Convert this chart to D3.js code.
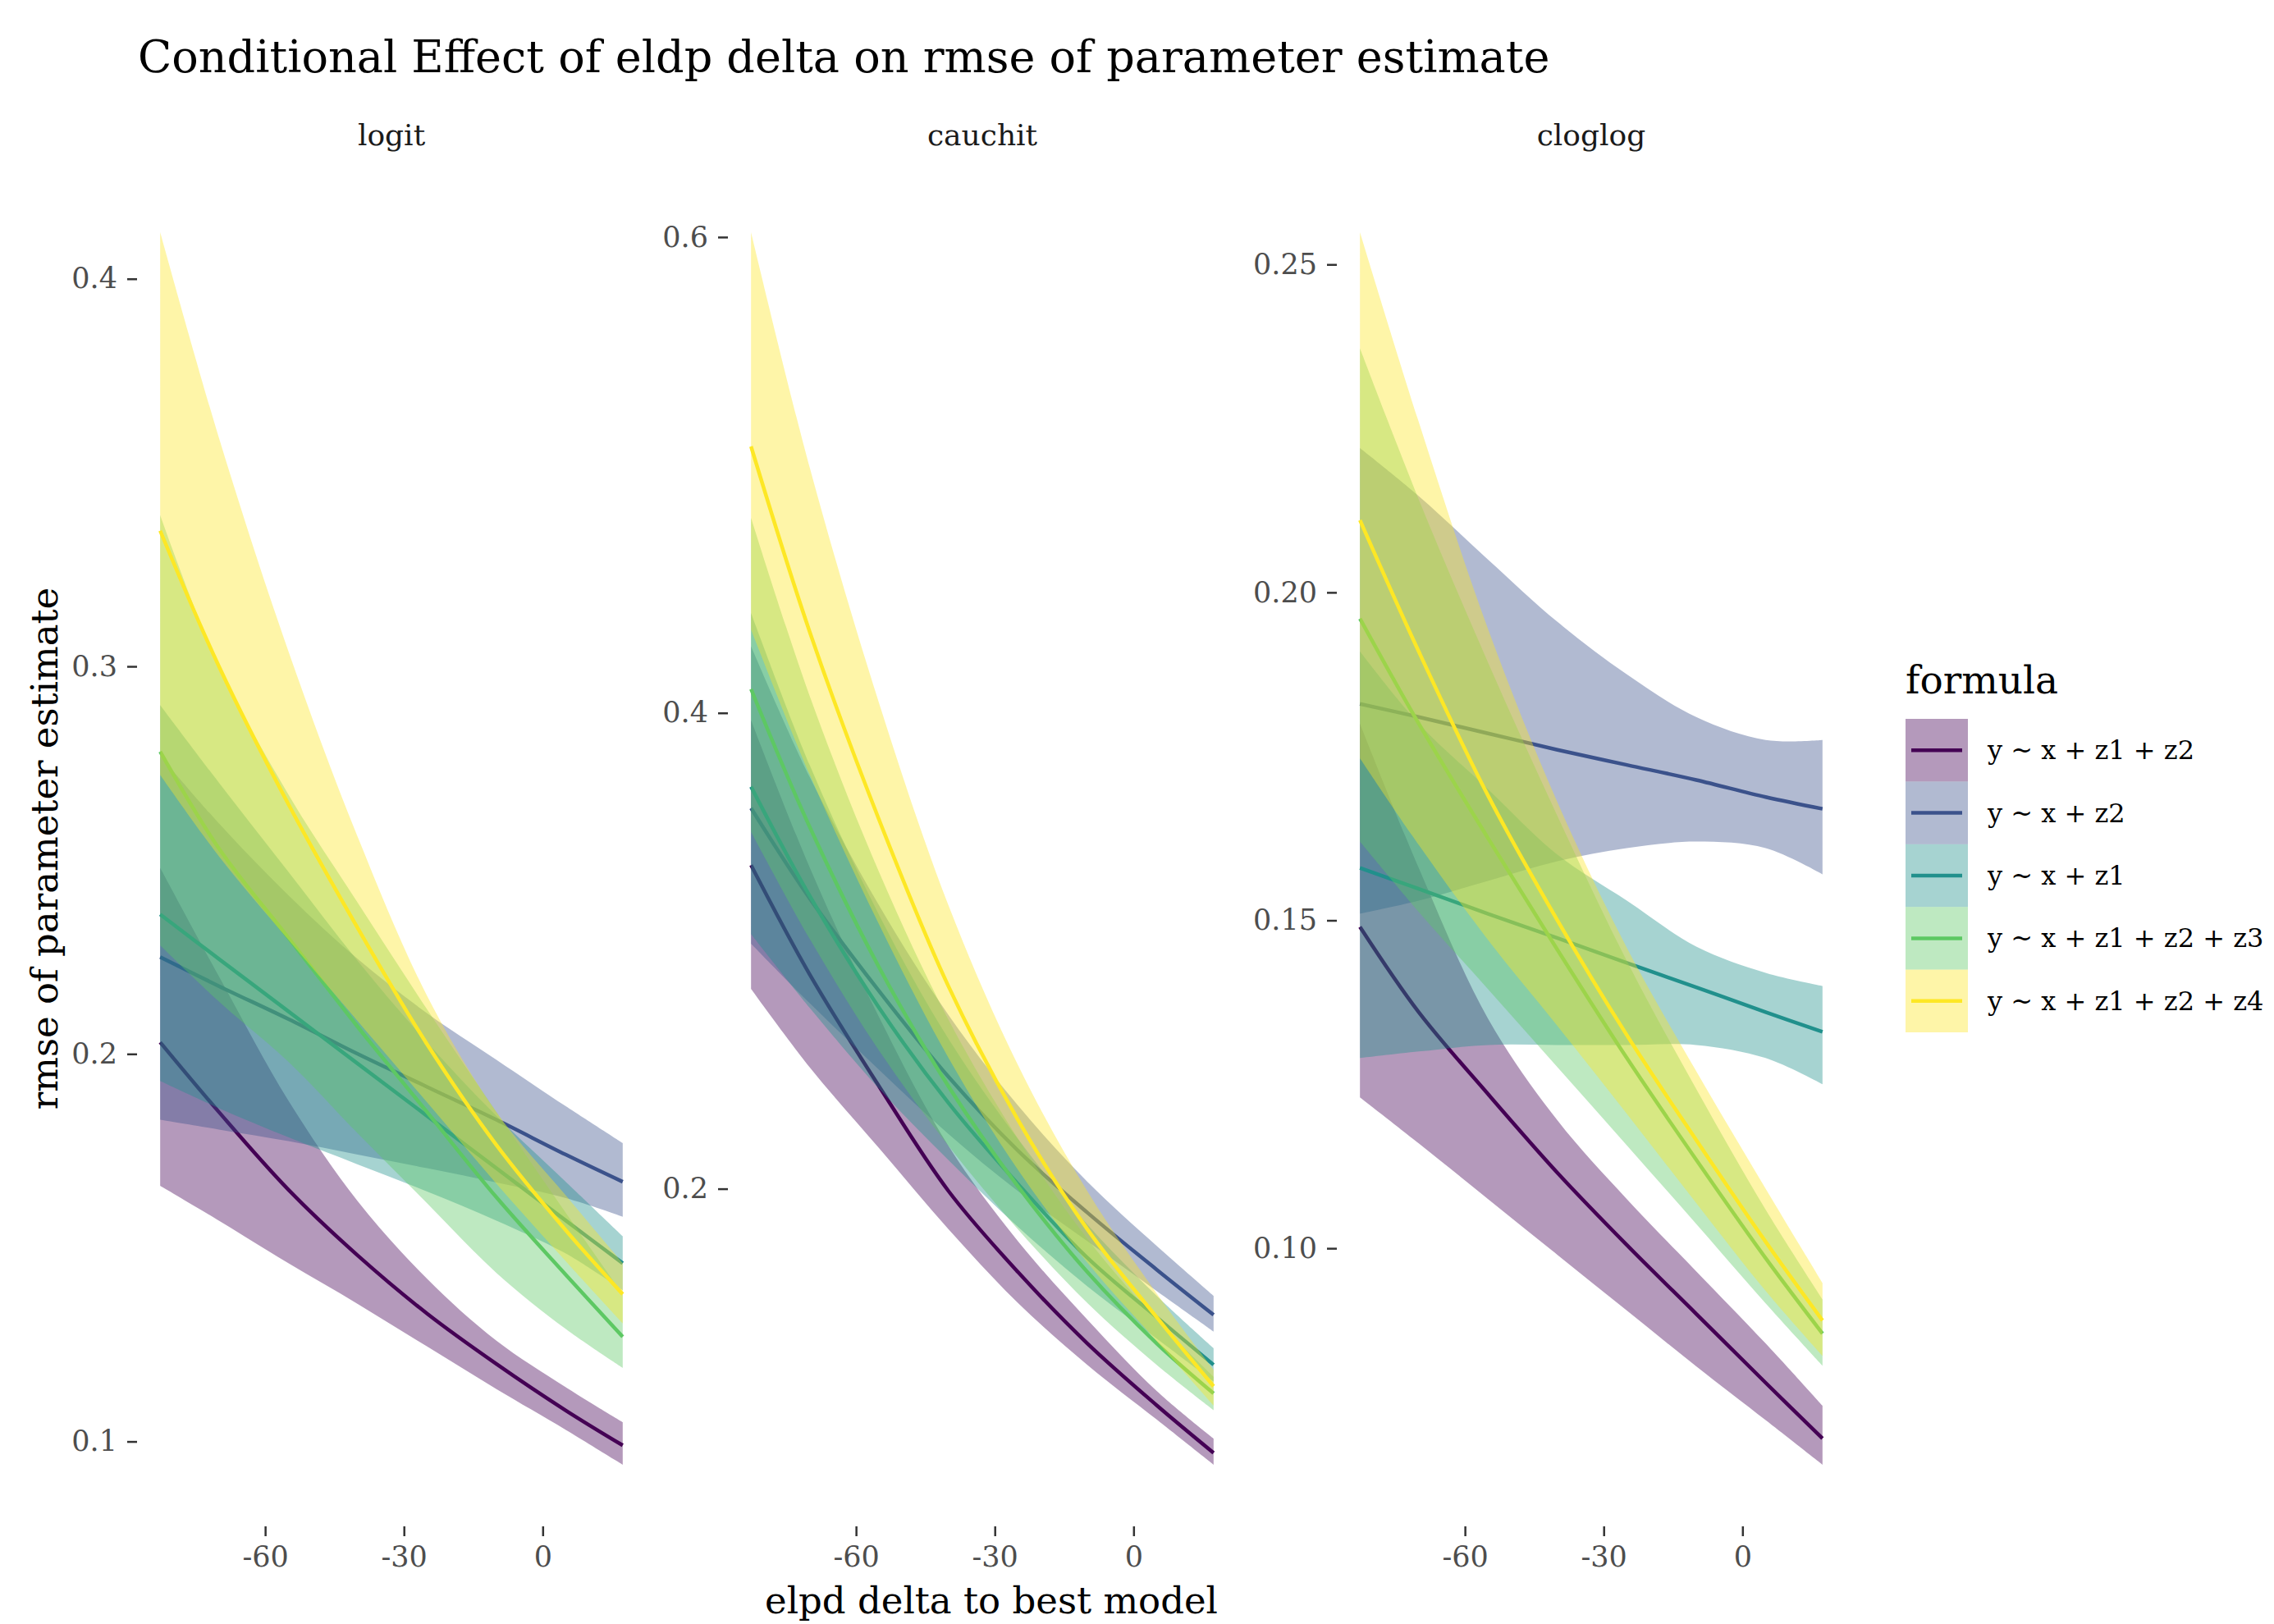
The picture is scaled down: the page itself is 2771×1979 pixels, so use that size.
<!DOCTYPE html>
<html>
<head>
<meta charset="utf-8">
<script src="https://cdn.jsdelivr.net/npm/d3@7"></script>
<style>
  body { margin: 0; background: #fff; }
  svg text { font-family: 'DejaVu Serif', serif; }
</style>
</head>
<body>
<svg id="chart"></svg>
<script>
const xValues = [-82.7, -70, -55, -40, -25, -10, 5, 17.3];

const formulas = ['y ~ x + z1 + z2', 'y ~ x + z2', 'y ~ x + z1', 'y ~ x + z1 + z2 + z3', 'y ~ x + z1 + z2 + z4'];
const links    = ['logit', 'cauchit', 'cloglog'];
const colors   = ['#440154', '#3B528B', '#21908C', '#5DC863', '#FDE725'];

const xTicks       = [-60, -30, 0];
const logitTicks   = [0.1, 0.2, 0.3, 0.4];
const cauchitTicks = [0.2, 0.4, 0.6];
const cloglogTicks = [0.10, 0.15, 0.20, 0.25];

// one row per formula, same order as `formulas`
const logitEstimate = [
  [0.203, 0.185, 0.165, 0.148, 0.133, 0.120, 0.108, 0.099],
  [0.225, 0.2175, 0.209, 0.200, 0.1915, 0.183, 0.174, 0.167],
  [0.236, 0.2245, 0.211, 0.1975, 0.184, 0.1705, 0.157, 0.146],
  [0.278, 0.253, 0.230, 0.207, 0.185, 0.163, 0.143, 0.127],
  [0.335, 0.300, 0.2645, 0.2325, 0.2025, 0.1765, 0.1545, 0.138]
];
const logitLower = [
  [0.166, 0.157, 0.146, 0.1355, 0.1245, 0.1135, 0.103, 0.094],
  [0.183, 0.1805, 0.1775, 0.174, 0.1705, 0.1668, 0.1628, 0.158],
  [0.193, 0.186, 0.1785, 0.1715, 0.1645, 0.157, 0.1485, 0.139],
  [0.228, 0.2135, 0.198, 0.1795, 0.1615, 0.1435, 0.129, 0.119],
  [0.272, 0.251, 0.2295, 0.2085, 0.1875, 0.1665, 0.1465, 0.1305]
];
const logitUpper = [
  [0.248, 0.220, 0.188, 0.162, 0.142, 0.126, 0.114, 0.105],
  [0.277, 0.2595, 0.241, 0.2245, 0.2105, 0.1985, 0.1865, 0.177],
  [0.290, 0.270, 0.247, 0.224, 0.203, 0.184, 0.167, 0.153],
  [0.339, 0.300, 0.267, 0.239, 0.2115, 0.185, 0.159, 0.138],
  [0.412, 0.359, 0.304, 0.256, 0.215, 0.185, 0.1635, 0.146]
];

const cauchitEstimate = [
  [0.336, 0.290, 0.243, 0.199, 0.165, 0.135, 0.109, 0.089],
  [0.360, 0.322, 0.283, 0.247, 0.216, 0.190, 0.166, 0.147],
  [0.369, 0.323, 0.276, 0.236, 0.202, 0.171, 0.146, 0.126],
  [0.410, 0.352, 0.293, 0.243, 0.201, 0.165, 0.135, 0.114],
  [0.512, 0.434, 0.355, 0.285, 0.229, 0.183, 0.146, 0.117]
];
const cauchitLower = [
  [0.284, 0.251, 0.217, 0.183, 0.152, 0.126, 0.103, 0.084],
  [0.303, 0.278, 0.250, 0.223, 0.199, 0.178, 0.157, 0.140],
  [0.307, 0.276, 0.242, 0.212, 0.184, 0.159, 0.137, 0.119],
  [0.350, 0.305, 0.258, 0.218, 0.183, 0.152, 0.126, 0.107],
  [0.435, 0.374, 0.311, 0.255, 0.208, 0.169, 0.136, 0.109]
];
const cauchitUpper = [
  [0.397, 0.335, 0.272, 0.218, 0.178, 0.145, 0.115, 0.095],
  [0.428, 0.373, 0.319, 0.273, 0.235, 0.203, 0.176, 0.155],
  [0.442, 0.378, 0.315, 0.263, 0.221, 0.185, 0.155, 0.133],
  [0.482, 0.407, 0.333, 0.271, 0.221, 0.179, 0.145, 0.121],
  [0.602, 0.503, 0.404, 0.319, 0.252, 0.199, 0.156, 0.124]
];

const cloglogEstimate = [
  [0.149, 0.136, 0.1235, 0.1115, 0.1005, 0.090, 0.0795, 0.071],
  [0.183, 0.181, 0.1785, 0.176, 0.1737, 0.1714, 0.1688, 0.167],
  [0.158, 0.1548, 0.151, 0.1473, 0.1435, 0.1398, 0.136, 0.133],
  [0.196, 0.180, 0.1625, 0.1455, 0.129, 0.1135, 0.0985, 0.087],
  [0.211, 0.191, 0.169, 0.150, 0.1325, 0.1165, 0.101, 0.089]
];
const cloglogLower = [
  [0.123, 0.116, 0.1075, 0.099, 0.0905, 0.082, 0.0738, 0.067],
  [0.151, 0.153, 0.156, 0.159, 0.161, 0.162, 0.161, 0.157],
  [0.129, 0.130, 0.131, 0.131, 0.131, 0.131, 0.129, 0.125],
  [0.162, 0.1513, 0.1395, 0.1276, 0.1157, 0.1037, 0.0916, 0.0821],
  [0.1747, 0.1615, 0.147, 0.1339, 0.1205, 0.1069, 0.0935, 0.0836]
];
const cloglogUpper = [
  [0.180, 0.158, 0.135, 0.1195, 0.1075, 0.0965, 0.0855, 0.076],
  [0.222, 0.2147, 0.205, 0.1955, 0.1875, 0.181, 0.1775, 0.1775],
  [0.191, 0.180, 0.170, 0.160, 0.153, 0.146, 0.142, 0.140],
  [0.2372, 0.2142, 0.1893, 0.1659, 0.1438, 0.1243, 0.1059, 0.0922],
  [0.2549, 0.226, 0.1944, 0.168, 0.1458, 0.127, 0.1091, 0.0947]
];

const panels = [
  { link: links[0], est: logitEstimate,   lower: logitLower,   upper: logitUpper,   ticks: logitTicks,   fmt: '.1f' },
  { link: links[1], est: cauchitEstimate, lower: cauchitLower, upper: cauchitUpper, ticks: cauchitTicks, fmt: '.1f' },
  { link: links[2], est: cloglogEstimate, lower: cloglogLower, upper: cloglogUpper, ticks: cloglogTicks, fmt: '.2f' }
];

const W = 2771, H = 1979;
const panelTop = 208, panelBottom = 1860;
const panelLefts = [167, 887, 1629];
const panelWidth = 620;

const svg = d3.select('#chart').attr('width', W).attr('height', H);
svg.append('rect').attr('width', W).attr('height', H).attr('fill', '#fff');

svg.append('text')
  .attr('x', 168).attr('y', 88)
  .attr('font-size', 54).attr('fill', '#000')
  .text('Conditional Effect of eldp delta on rmse of parameter estimate');

const [xMin, xMax] = d3.extent(xValues);
const xPad = (xMax - xMin) * 0.05;

function styleAxis(g) {
  g.attr('font-family', "'DejaVu Serif', serif").attr('font-size', 35);
  g.select('.domain').remove();
  g.selectAll('.tick line').attr('stroke', '#333').attr('stroke-width', 2.5);
  g.selectAll('.tick text').attr('fill', '#4D4D4D');
}

panels.forEach((p, i) => {
  const left = panelLefts[i];
  const x = d3.scaleLinear()
    .domain([xMin - xPad, xMax + xPad])
    .range([left, left + panelWidth]);

  const [lo, hi] = d3.extent(p.lower.flat().concat(p.upper.flat()));
  const yPad = (hi - lo) * 0.05;
  const y = d3.scaleLinear()
    .domain([lo - yPad, hi + yPad])
    .range([panelBottom, panelTop]);

  const curve = d3.curveCatmullRom.alpha(0.5);
  const area = d3.area()
    .x(d => x(d.x)).y0(d => y(d.lower)).y1(d => y(d.upper))
    .curve(curve);
  const line = d3.line()
    .x(d => x(d.x)).y(d => y(d.est))
    .curve(curve);

  // ribbon then line for each formula, so later ribbons wash over earlier lines
  const g = svg.append('g');
  formulas.forEach((f, k) => {
    const rows = xValues.map((xv, j) => ({
      x: xv, est: p.est[k][j], lower: p.lower[k][j], upper: p.upper[k][j]
    }));
    g.append('path').datum(rows)
      .attr('d', area)
      .attr('fill', colors[k]).attr('fill-opacity', 0.4);
    g.append('path').datum(rows)
      .attr('d', line)
      .attr('fill', 'none')
      .attr('stroke', colors[k]).attr('stroke-width', 4.5);
  });

  svg.append('g')
    .attr('transform', `translate(${left},0)`)
    .call(d3.axisLeft(y).tickValues(p.ticks).tickFormat(d3.format(p.fmt)).tickSize(12).tickPadding(12))
    .call(styleAxis);

  svg.append('g')
    .attr('transform', `translate(0,${panelBottom})`)
    .call(d3.axisBottom(x).tickValues(xTicks).tickFormat(d => String(d)).tickSize(12).tickPadding(12))
    .call(styleAxis);

  svg.append('text')
    .attr('x', left + panelWidth / 2).attr('y', 177)
    .attr('text-anchor', 'middle')
    .attr('font-size', 36).attr('fill', '#1A1A1A')
    .text(p.link);
});

// axis titles
svg.append('text')
  .attr('x', (panelLefts[0] + panelLefts[2] + panelWidth) / 2).attr('y', 1966)
  .attr('text-anchor', 'middle')
  .attr('font-size', 45).attr('fill', '#000')
  .text('elpd delta to best model');

svg.append('text')
  .attr('transform', `translate(70,${(panelTop + panelBottom) / 2}) rotate(-90)`)
  .attr('text-anchor', 'middle')
  .attr('font-size', 45).attr('fill', '#000')
  .text('rmse of parameter estimate');

// legend
const legendX = 2322, legendTop = 876, keySize = 76.4;
const legend = svg.append('g');
legend.append('text')
  .attr('x', legendX).attr('y', 845)
  .attr('font-size', 47).attr('fill', '#000')
  .text('formula');

formulas.forEach((f, k) => {
  const ky = legendTop + k * keySize;
  legend.append('rect')
    .attr('x', legendX).attr('y', ky)
    .attr('width', 76).attr('height', keySize)
    .attr('fill', colors[k]).attr('fill-opacity', 0.4);
  legend.append('line')
    .attr('x1', legendX + 7).attr('x2', legendX + 69)
    .attr('y1', ky + keySize / 2).attr('y2', ky + keySize / 2)
    .attr('stroke', colors[k]).attr('stroke-width', 4.5);
  legend.append('text')
    .attr('x', 2422).attr('y', ky + keySize / 2)
    .attr('dominant-baseline', 'central')
    .attr('font-size', 32).attr('fill', '#000')
    .text(f);
});
</script>
</body>
</html>
